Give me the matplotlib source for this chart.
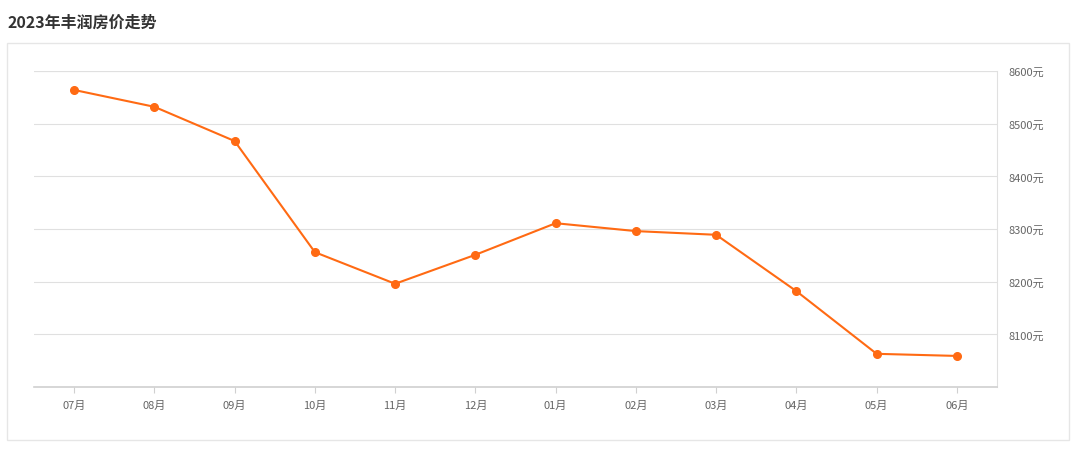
import matplotlib
matplotlib.use('Agg')
import matplotlib.pyplot as plt
from matplotlib.patches import Rectangle

plt.rcParams['font.family'] = ['Noto Sans CJK SC', 'DejaVu Sans']

months = ['07月', '08月', '09月', '10月', '11月', '12月',
          '01月', '02月', '03月', '04月', '05月', '06月']
prices = [8564, 8532, 8467, 8256, 8196, 8251,
          8311, 8296, 8289, 8182, 8063, 8059]
yticks = [8100, 8200, 8300, 8400, 8500, 8600]

fig = plt.figure(figsize=(10.8, 4.56), dpi=100)

# outer panel border
fig.patches.append(Rectangle((7/1080, 15/456), 1062/1080, 397/456,
                             transform=fig.transFigure, fill=False,
                             edgecolor='#e6e6e6', linewidth=1))
fig.text(7/1080, 1 - 23/456, '2023年丰润房价走势', fontsize=11.5,
         fontweight='bold', color='#333333', va='center', ha='left')

ax = fig.add_axes([34/1080, 68/456, 963/1080, 316/456])
x = list(range(len(months)))
ax.plot(x, prices, color='#ff6a13', linewidth=1.5, marker='o',
        markersize=5.5, zorder=3)

ax.set_xlim(-0.5, len(months) - 0.5)
ax.set_ylim(8000, 8600)
ax.set_xticks(x)
ax.set_xticklabels(months)
ax.set_yticks(yticks)
ax.set_yticklabels([f'{v}元' for v in yticks])
ax.yaxis.tick_right()
ax.grid(axis='y', color='#e0e0e0', linewidth=0.8)
ax.axhline(8600, color='#e0e0e0', linewidth=0.8)

for side in ['left', 'top']:
    ax.spines[side].set_visible(False)
ax.spines['right'].set_color('#e0e0e0')
ax.spines['bottom'].set_color('#d0d0d0')
ax.spines['bottom'].set_linewidth(1.2)

ax.tick_params(axis='x', colors='#d0d0d0', length=4, labelsize=8,
               labelcolor='#666666', pad=5)
ax.tick_params(axis='y', length=0, labelsize=8, labelcolor='#666666',
               pad=8)

fig.savefig('out.png', dpi=100)
